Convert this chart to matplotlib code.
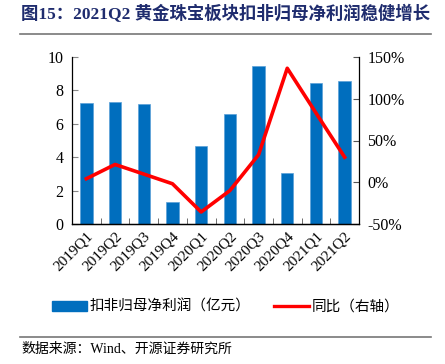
import numpy as np
import matplotlib.pyplot as plt
from matplotlib.lines import Line2D
from matplotlib.patches import Patch

# quarterly data
quarters = ['2019Q1', '2019Q2', '2019Q3', '2019Q4', '2020Q1', '2020Q2',
            '2020Q3', '2020Q4', '2021Q1', '2021Q2']
profit = [7.27, 7.30, 7.17, 1.29, 4.68, 6.57, 9.48, 3.05, 8.43, 8.55]   # 亿元
yoy = [4.2, 21.3, 9.8, -1.8, -35.6, -10.0, 32.9, 136.5, 83.0, 30.0]     # %

mixed = ['Liberation Serif', 'Noto Sans CJK SC']
cjk = ['Noto Sans CJK SC', 'DejaVu Sans']
plt.rcParams['font.family'] = mixed

fig = plt.figure(figsize=(4.45, 3.64), dpi=100)
ax = fig.add_axes([72/445, 1-224/364, 287/445, 167/364])
ax2 = ax.twinx()

x = np.arange(len(quarters))
ax.bar(x, profit, width=0.43, color='#006EBE', edgecolor='#5AA0D8', linewidth=0.5, zorder=2)
ax2.plot(x, yoy, color='#FF0000', lw=2.6, zorder=3)

ax.set_xlim(-0.5, len(quarters) - 0.5)
ax.set_ylim(0, 10)
ax.set_yticks([0, 2, 4, 6, 8, 10])
ax2.set_ylim(-50, 150)
ax2.set_yticks([-50, 0, 50, 100, 150])
ax2.set_yticklabels([f'{v}%' for v in [-50, 0, 50, 100, 150]])

ax.set_xticks(x)
ax.set_xticklabels(quarters, rotation=45, ha='right', rotation_mode='anchor', fontsize=11)
ax.set_xticks(np.arange(len(quarters) + 1) - 0.5, minor=True)
ax.tick_params(axis='x', which='major', length=0, pad=4)
ax.tick_params(axis='x', which='minor', direction='in', length=4, color='#555555')
ax.tick_params(axis='y', direction='in', length=4, color='#888888', labelsize=11.5, pad=6)
ax2.tick_params(axis='y', direction='in', length=4, color='#555555', labelsize=11.5, pad=6)

for a in (ax, ax2):
    a.spines['top'].set_visible(False)
    for s in ('left', 'right', 'bottom'):
        a.spines[s].set_linewidth(0.9)
ax.spines['right'].set_visible(False)
ax2.spines['left'].set_visible(False)

handles = [Patch(facecolor='#006EBE', edgecolor='#006EBE'),
           Line2D([0], [0], color='#FF0000', lw=2.4)]
fig.legend(handles, ['扣非归母净利润（亿元）', '同比（右轴）'], loc='center',
           bbox_to_anchor=(226/445, 1-307/364), ncol=2, frameon=False,
           prop={'family': cjk, 'size': 10.5}, handlelength=2.4, handletextpad=0.2,
           columnspacing=1.6)

# title and source
fig.text(21/445, 1-14/364, '图15：2021Q2 黄金珠宝板块扣非归母净利润稳健增长',
         fontsize=12.5, fontweight='bold', color='#1F2C6E', va='center', family=mixed)
fig.add_artist(Line2D([20/445, 431/445], [1-33.5/364, 1-33.5/364], color='#777777', lw=1.2))
fig.add_artist(Line2D([20/445, 431/445], [1-337/364, 1-337/364], color='#777777', lw=1.2))
fig.text(21/445, 1-349/364, '数据来源：Wind、开源证券研究所', fontsize=10,
         va='center', family=mixed)

fig.savefig('out.png', dpi=100)
